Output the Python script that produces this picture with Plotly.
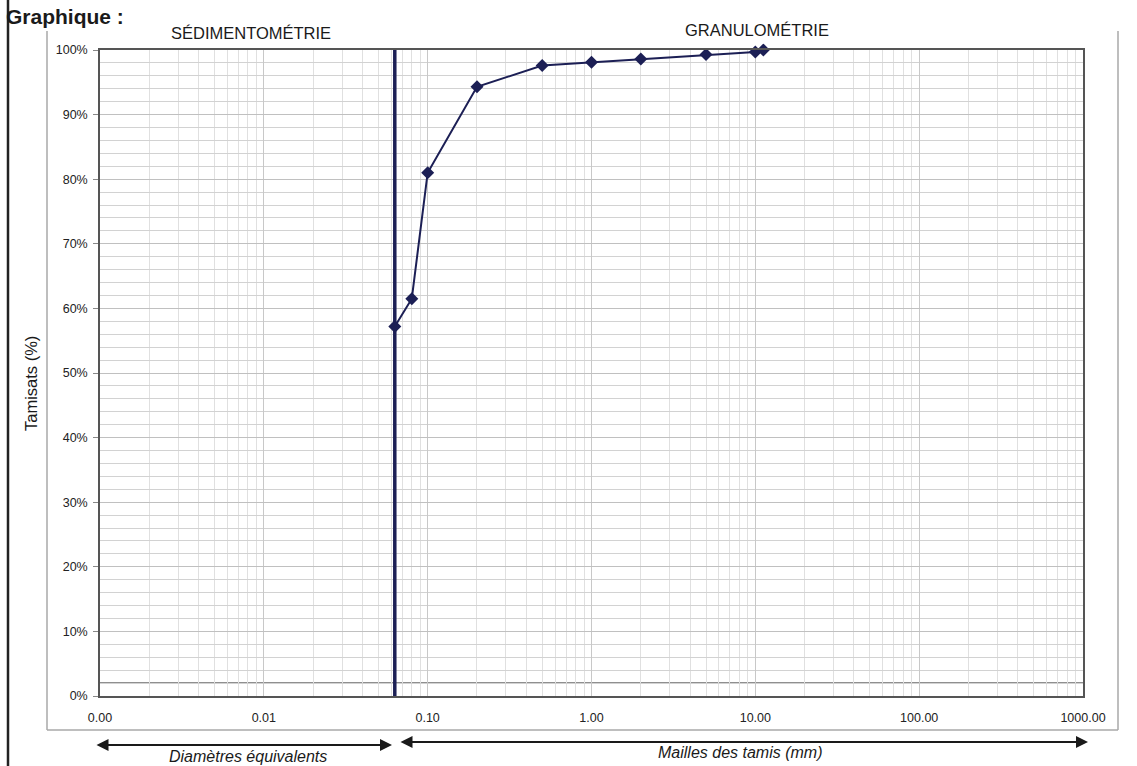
import plotly.graph_objects as go

# ---- data ----
sieve_mm = [0.063, 0.08, 0.1, 0.2, 0.5, 1.0, 2.0, 5.0, 10.0, 11.2]
passing_pct = [57.2, 61.5, 81.0, 94.3, 97.6, 98.1, 98.6, 99.3, 99.7, 100.0]
separation_mm = 0.063
reference_pct = 2
x_tick_vals = [0.001, 0.01, 0.1, 1, 10, 100, 1000]
x_tick_text = ["0.00", "0.01", "0.10", "1.00", "10.00", "100.00", "1000.00"]
y_tick_vals = [0, 10, 20, 30, 40, 50, 60, 70, 80, 90, 100]
y_tick_text = ["0%", "10%", "20%", "30%", "40%", "50%", "60%", "70%", "80%", "90%", "100%"]

minor_x = [m * 10 ** e for e in range(-3, 3) for m in range(2, 10)]

W, H = 1137, 766
L, R, T, B = 100, 54, 50, 70
pw, ph = W - L - R, H - T - B


def px(xp):
    return (xp - L) / pw


def py(yp):
    return (H - B - yp) / ph


NAVY = "#1c1f55"
FONT = "Liberation Sans, Arial, sans-serif"

fig = go.Figure()

fig.add_trace(go.Scatter(
    x=[separation_mm, separation_mm], y=[0, 100], mode="lines",
    line=dict(color=NAVY, width=3.5), showlegend=False, hoverinfo="skip",
    cliponaxis=False))

fig.add_trace(go.Scatter(
    x=sieve_mm, y=passing_pct, mode="lines+markers",
    line=dict(color=NAVY, width=2),
    marker=dict(symbol="diamond", size=10, color=NAVY),
    showlegend=False, cliponaxis=False))

fig.add_hline(y=reference_pct, line=dict(color="#6a6a6a", width=1.5), layer="below")

fig.update_xaxes(
    type="log", range=[-3, 3],
    tickvals=x_tick_vals, ticktext=x_tick_text,
    showgrid=True, gridcolor="#c8c8c8", gridwidth=1,
    minor=dict(tickvals=minor_x, showgrid=True, gridcolor="#e0e0e0", gridwidth=1, ticks=""),
    showline=True, linecolor="#555555", linewidth=1.5, mirror=True,
    ticks="", ticklabelstandoff=9,
    tickfont=dict(family=FONT, size=12.5, color="#222222"),
    zeroline=False)

fig.update_yaxes(
    range=[0, 100], tickvals=y_tick_vals, ticktext=y_tick_text,
    showgrid=True, gridcolor="#c0c0c0", gridwidth=1,
    minor=dict(dtick=2, showgrid=True, gridcolor="#d2d2d2", gridwidth=1, ticks=""),
    showline=True, linecolor="#555555", linewidth=1.5, mirror=True,
    ticks="outside", ticklen=5, tickcolor="#888888", ticklabelstandoff=3,
    tickfont=dict(family=FONT, size=12.5, color="#222222"),
    zeroline=False)

FRAME = dict(color="#a8a8a8", width=1.5)
fx0, fx1, fy0, fy1 = px(47), px(1118), py(730), py(31)
shapes = [
    # outer chart frame (four sides)
    dict(type="line", xref="paper", yref="paper", x0=fx0, x1=fx1, y0=fy1, y1=fy1, line=FRAME),
    dict(type="line", xref="paper", yref="paper", x0=fx0, x1=fx1, y0=fy0, y1=fy0, line=FRAME),
    dict(type="line", xref="paper", yref="paper", x0=fx0, x1=fx0, y0=fy0, y1=fy1, line=FRAME),
    dict(type="line", xref="paper", yref="paper", x0=fx1, x1=fx1, y0=fy0, y1=fy1, line=FRAME),
    # page frame left
    dict(type="line", xref="paper", yref="paper",
         x0=px(8), x1=px(8), y0=py(0), y1=py(766),
         line=dict(color="#222222", width=2.5)),
]

annotations = [
    dict(text="<b>Graphique :</b>", xref="paper", yref="paper",
         x=px(4), y=py(16), xanchor="left", yanchor="middle", showarrow=False,
         font=dict(family=FONT, size=21, color="#1a1a1a")),
    dict(text="SÉDIMENTOMÉTRIE", xref="paper", yref="paper",
         x=px(251), y=py(33), xanchor="center", yanchor="middle", showarrow=False,
         bgcolor="white", borderpad=4,
         font=dict(family=FONT, size=16.5, color="#1a1a1a")),
    dict(text="GRANULOMÉTRIE", xref="paper", yref="paper",
         x=px(757), y=py(30), xanchor="center", yanchor="middle", showarrow=False,
         bgcolor="white", borderpad=4,
         font=dict(family=FONT, size=16.5, color="#1a1a1a")),
    dict(text="Tamisats (%)", xref="paper", yref="paper",
         x=px(31), y=py(384), xanchor="center", yanchor="middle", showarrow=False,
         textangle=-90, font=dict(family=FONT, size=16.5, color="#1a1a1a")),
    # arrows
    dict(text="", xref="paper", yref="paper", x=px(392), y=py(745),
         ax=-297, ay=0, showarrow=True, arrowside="end+start",
         arrowhead=2, startarrowhead=2, arrowwidth=2, arrowsize=1.2,
         startarrowsize=1.2, arrowcolor="#1a1a1a"),
    dict(text="", xref="paper", yref="paper", x=px(1088), y=py(742),
         ax=-689, ay=0, showarrow=True, arrowside="end+start",
         arrowhead=2, startarrowhead=2, arrowwidth=2, arrowsize=1.2,
         startarrowsize=1.2, arrowcolor="#1a1a1a"),
    dict(text="<i>Diamètres équivalents</i>", xref="paper", yref="paper",
         x=px(248), y=py(756), xanchor="center", yanchor="middle", showarrow=False,
         font=dict(family=FONT, size=16, color="#1a1a1a")),
    dict(text="<i>Mailles des tamis (mm)</i>", xref="paper", yref="paper",
         x=px(740), y=py(752), xanchor="center", yanchor="middle", showarrow=False,
         font=dict(family=FONT, size=16, color="#1a1a1a")),
]

fig.update_layout(
    width=W, height=H,
    margin=dict(l=L, r=R, t=T, b=B, autoexpand=False),
    paper_bgcolor="white", plot_bgcolor="white",
    shapes=shapes, annotations=annotations,
    showlegend=False)

fig.write_html("out.html")
